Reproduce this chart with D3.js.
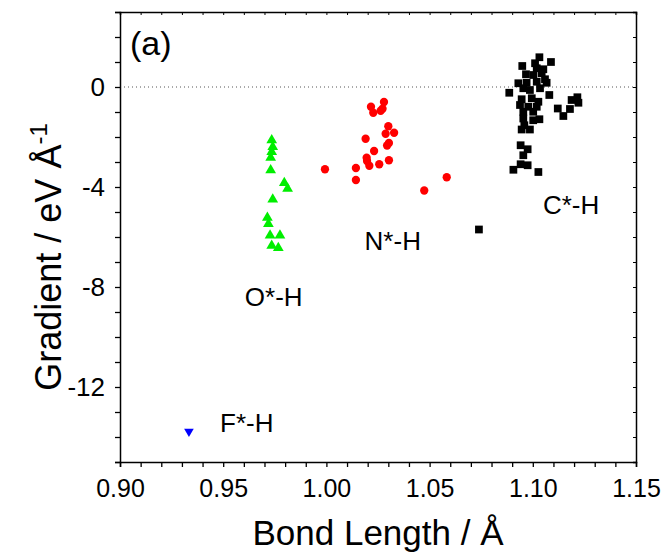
<!DOCTYPE html>
<html><head><meta charset="utf-8">
<script src="https://cdn.jsdelivr.net/npm/d3@7"></script>
<style>body{margin:0;background:#fff}svg{display:block}text{font-family:Arial,"Liberation Sans",sans-serif}</style>
</head><body><svg id="c" width="666" height="554"></svg>
<script>
const xTicks = [0.90, 0.95, 1.00, 1.05, 1.10, 1.15];
const yTicks = [0, -4, -8, -12];
const xDomain = [0.90, 1.15];
const yDomain = [-15, 3];

const cH_x = [1.1032,1.1011,1.1088,1.0949,1.1019,1.1051,1.0967,1.1003,1.1043,1.1059,1.0930,1.0970,1.1019,1.1067,1.0886,1.0954,1.0986,1.1035,1.1080,1.0946,1.0995,1.1027,1.0938,1.0978,1.1019,1.1188,1.1216,1.1221,1.1121,1.1180,1.1148,1.0954,1.1002,1.0954,1.1002,1.1032,1.0959,1.0946,1.0986,1.0941,1.0975,1.0954,1.0941,1.0975,1.0906,1.1027,1.0739];
const cH_y = [1.19,0.95,1.00,0.84,0.75,0.71,0.51,0.48,0.55,0.31,0.15,0.17,0.21,0.17,-0.23,-0.05,-0.12,-0.05,-0.32,-0.49,-0.45,-0.59,-0.72,-0.79,-0.79,-0.52,-0.41,-0.63,-0.86,-0.88,-1.16,-0.99,-0.99,-1.26,-1.33,-1.29,-1.53,-1.70,-1.70,-2.33,-2.49,-2.73,-3.09,-3.13,-3.31,-3.40,-5.70];

const nH_x = [1.0279,1.0216,1.0227,1.0263,1.0272,1.0300,1.0287,1.0328,1.0190,1.0303,1.0294,1.0231,1.0195,1.0197,1.0208,1.0256,1.0303,0.9993,1.0143,1.0143,1.0583,1.0474];
const nH_y = [-0.60,-0.79,-1.03,-0.95,-0.87,-1.57,-1.87,-1.83,-2.07,-2.24,-2.34,-2.56,-2.83,-2.96,-3.15,-3.09,-2.93,-3.29,-3.24,-3.72,-3.61,-4.14];

const oH_x = [0.9735,0.9740,0.9735,0.9730,0.9730,0.9796,0.9812,0.9740,0.9714,0.9719,0.9727,0.9775,0.9735,0.9767];
const oH_y = [-2.13,-2.40,-2.60,-2.83,-3.33,-3.84,-4.07,-4.50,-5.23,-5.48,-5.94,-5.94,-6.35,-6.44];

const fH_x = [0.9334];
const fH_y = [-13.78];

const labels = [
  {t:"C*-H", x:1.1049, y:-5.07},
  {t:"N*-H", x:1.0185, y:-6.5},
  {t:"O*-H", x:0.9605, y:-8.75},
  {t:"F*-H", x:0.9485, y:-13.8}
];

const svg = d3.select("#c");
const m = {l:120, r:30, t:12, b:92};
const W = 666, H = 554;
const x = d3.scaleLinear().domain(xDomain).range([m.l, W - m.r]);
const y = d3.scaleLinear().domain(yDomain).range([H - m.b, m.t]);
const FONT = "Arial, 'Liberation Sans', sans-serif";

// zero dotted line
svg.append("line").attr("x1", x(xDomain[0])).attr("x2", x(xDomain[1]))
  .attr("y1", y(0)).attr("y2", y(0))
  .attr("stroke", "#555").attr("stroke-width", 1).attr("stroke-dasharray", "1,3");

// axes
const xMinor = d3.range(0, 26).map(i => 0.90 + i*0.01);
const yMinor = d3.range(-15, 4);
const fmtX = d3.format(".2f");

const gx = svg.append("g").attr("transform", `translate(0,${y(yDomain[0])})`)
  .call(d3.axisBottom(x).tickValues(xMinor).tickSize(5).tickPadding(10).tickFormat(d => {
    const r = Math.round(d*100);
    return r % 5 === 0 ? fmtX(d) : "";
  }));
gx.select(".domain").attr("stroke-width", 1.5);
gx.selectAll(".tick line").attr("stroke-width", 1.3);
gx.selectAll("text").attr("font-size", 25).attr("dy", "0.8em").attr("fill", "#000")
  .attr("font-family", FONT);

const gy = svg.append("g").attr("transform", `translate(${x(xDomain[0])},0)`)
  .call(d3.axisLeft(y).tickValues(yMinor).tickSize(5).tickPadding(10).tickFormat(d => yTicks.includes(d) ? String(d) : ""));
gy.select(".domain").attr("stroke-width", 1.5);
gy.selectAll(".tick line").attr("stroke-width", 1.3);
gy.selectAll("text").attr("font-size", 26).attr("fill", "#000")
  .attr("font-family", FONT);

const gt = svg.append("g").attr("transform", `translate(0,${y(yDomain[1])})`)
  .call(d3.axisTop(x).tickValues(xMinor).tickSize(-3).tickFormat(""));
gt.select(".domain").attr("stroke-width", 1.5);
const gr = svg.append("g").attr("transform", `translate(${x(xDomain[1])},0)`)
  .call(d3.axisRight(y).tickValues(yMinor).tickSize(-3).tickFormat(""));
gr.select(".domain").attr("stroke-width", 1.5);
svg.selectAll(".domain").attr("stroke", "#000");
svg.selectAll(".tick line").attr("stroke", "#000");

// markers
const sq = d3.symbol().type(d3.symbolSquare).size(60);
const circ = d3.symbol().type(d3.symbolCircle).size(54);
const tri = d3.symbol().type(d3.symbolTriangle).size(50);
const triD = d3.symbol().type(d3.symbolTriangle).size(40);

function plot(xs, ys, sym, color, rot) {
  svg.append("g").selectAll("path").data(xs.map((v,i)=>[v, ys[i]])).join("path")
    .attr("d", sym)
    .attr("transform", d => `translate(${x(d[0])},${y(d[1])})${rot ? " rotate(180)" : ""}`)
    .attr("fill", color);
}
plot(cH_x, cH_y, sq, "#000000");
plot(nH_x, nH_y, circ, "#ff0000");
plot(oH_x, oH_y, tri, "#00ee00");
plot(fH_x, fH_y, triD, "#0000ff", true);

// labels
svg.append("g").selectAll("text").data(labels).join("text")
  .attr("x", d => x(d.x)).attr("y", d => y(d.y))
  .attr("font-size", 26).attr("fill", "#000").text(d => d.t);

svg.append("text").attr("x", 130).attr("y", 55).attr("font-size", 34).text("(a)");

// axis titles
svg.append("text").attr("x", (x(xDomain[0]) + x(xDomain[1]))/2).attr("y", 545)
  .attr("text-anchor", "middle").attr("font-size", 35).text("Bond Length / Å");

const yt = svg.append("text").attr("transform", `translate(61,257) rotate(-90)`)
  .attr("text-anchor", "middle").attr("font-size", 36);
yt.append("tspan").text("Gradient / eV Å");
yt.append("tspan").attr("dy", "-0.6em").attr("font-size", 24).text("-1");
</script></body></html>
